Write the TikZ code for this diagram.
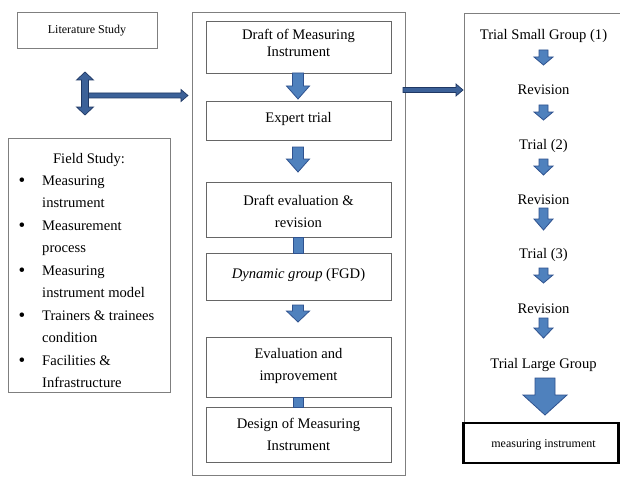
\documentclass[tikz,border=0pt]{standalone}
\usepackage{fontspec}
\setmainfont{Liberation Serif}
\definecolor{arrowfill}{HTML}{4F81BD}
\definecolor{arrowline}{HTML}{2F528F}
\definecolor{harrowfill}{HTML}{3C6198}
\definecolor{harrowline}{HTML}{1F3864}
\definecolor{boxline}{HTML}{7F7F7F}
\tikzset{
  outerbox/.style={draw=boxline, line width=0.8pt, inner sep=0pt},
  stepbox/.style={draw=gray!80!black, line width=0.9pt, inner sep=0pt, minimum width=185pt},
  txt/.style={font=\fontsize{14.6pt}{17pt}\selectfont, inner sep=0pt, anchor=base},
  smalltxt/.style={font=\fontsize{12pt}{14pt}\selectfont, inner sep=0pt, anchor=base},
  bullettxt/.style={font=\fontsize{19pt}{19pt}\selectfont, inner sep=0pt, anchor=base},
  barrow/.style={fill=arrowfill, draw=arrowline, line width=0.8pt, line join=miter},
  harrow/.style={fill=harrowfill, draw=harrowline, line width=0.7pt, line join=miter},
}
\newcommand\dnarrow[6]{\draw[barrow] (#1-#4,#2) -- (#1+#4,#2) -- (#1+#4,#3-#6) -- (#1+#5,#3-#6) -- (#1,#3) -- (#1-#5,#3-#6) -- (#1-#4,#3-#6) -- cycle;}
\newcommand\rtarrow[6]{\draw[harrow] (#2,#1-#4) -- (#3-#6,#1-#4) -- (#3-#6,#1-#5) -- (#3,#1) -- (#3-#6,#1+#5) -- (#3-#6,#1+#4) -- (#2,#1+#4) -- cycle;}
\begin{document}
\begin{tikzpicture}[x=1pt,y=-1pt]
\useasboundingbox (0,0) rectangle (620,484);
\fill[white] (0,0) rectangle (620,484);

% Literature study
\node[outerbox, minimum width=140pt, minimum height=36pt] (lit) at (87,30) {};
\node[smalltxt] (littxt) at (87,34) {Literature Study};

% double arrow
\draw[harrow] (85,72) -- (93.5,80) -- (88.5,80) -- (88.5,107) -- (93.5,107) -- (85,115) -- (76.5,107) -- (81.5,107) -- (81.5,80) -- (76.5,80) -- cycle;
\rtarrow{95.5}{88.5}{188}{2.5}{6}{7}

% Field study
\node[outerbox, minimum width=162pt, minimum height=254pt] (field) at (89,265) {};
\node[txt] (fs0) at (89,163) {Field Study:};
\foreach \yy/\tt [count=\i] in {185/Measuring, 207/instrument, 230/Measurement, 252/process, 275/Measuring, 297/instrument model, 320/Trainers \& trainees, 342/condition, 365/Facilities \&, 387/Infrastructure}
  \node[txt, anchor=base west] (fs\i) at (42,\yy) {\tt};
\foreach \yy [count=\i] in {186,231,276,321,366}
  \node[bullettxt] (bul\i) at (22,\yy) {\textbullet};

% middle column
\node[outerbox, minimum width=213pt, minimum height=463pt] (mid) at (298.5,243.5) {};
\node[stepbox, minimum height=52pt] (b1) at (298.5,47) {};
\node[stepbox, minimum height=39pt] (b2) at (298.5,120.5) {};
\node[stepbox, minimum height=55pt] (b3) at (298.5,209.5) {};
\node[stepbox, minimum height=47pt] (b4) at (298.5,276.5) {};
\node[stepbox, minimum height=60pt] (b5) at (298.5,367) {};
\node[stepbox, minimum height=55pt] (b6) at (298.5,434.5) {};
\node[txt] (t1a) at (298.5,40) {Draft of Measuring};
\node[txt] (t1b) at (298.5,57) {Instrument};
\node[txt] (t2) at (298.5,122) {Expert trial};
\node[txt] (t3a) at (298.5,205) {Draft evaluation \&};
\node[txt] (t3b) at (298.5,227) {revision};
\node[txt] (t4) at (298.5,278) {\textit{Dynamic group} (FGD)};
\node[txt] (t5a) at (298.5,358) {Evaluation and};
\node[txt] (t5b) at (298.5,380) {improvement};
\node[txt] (t6a) at (298.5,428) {Design of Measuring};
\node[txt] (t6b) at (298.5,450) {Instrument};
\dnarrow{298}{73}{99}{5.5}{11.5}{13}
\dnarrow{298}{147}{172}{5.5}{11.5}{13}
\draw[barrow] (293,237) rectangle (303,253);
\dnarrow{298}{305}{322}{5.5}{11.5}{11}
\draw[barrow] (293,397) rectangle (303,407);

% arrow to right column
\rtarrow{90}{403}{463}{2.5}{6}{7}

% right column
\node[outerbox, minimum width=158pt, minimum height=410pt] (right) at (543,218) {};
\node[txt] (r1) at (543.5,40) {Trial Small Group (1)};
\node[txt] (r2) at (543.5,95) {Revision};
\node[txt] (r3) at (543.5,149) {Trial (2)};
\node[txt] (r4) at (543.5,204) {Revision};
\node[txt] (r5) at (543.5,258) {Trial (3)};
\node[txt] (r6) at (543.5,313) {Revision};
\node[txt] (r7) at (543.5,368) {Trial Large Group};
\dnarrow{543.5}{50}{65}{4.5}{9.5}{8}
\dnarrow{543.5}{105}{120}{4.5}{9.5}{8}
\dnarrow{543.5}{159}{175}{4.5}{9.5}{9}
\dnarrow{543.5}{208}{230}{4.5}{9.5}{11}
\dnarrow{543.5}{268}{283}{4.5}{9.5}{8}
\dnarrow{543.5}{318}{338}{4.5}{9.5}{10}
\dnarrow{545}{378}{415}{10}{22}{20}
\node[draw=black, line width=2.6pt, minimum width=155pt, minimum height=40pt, inner sep=0pt] (mi) at (541,443) {};
\node[smalltxt] (mitxt) at (543.5,447) {measuring instrument};
\end{tikzpicture}
\end{document}
